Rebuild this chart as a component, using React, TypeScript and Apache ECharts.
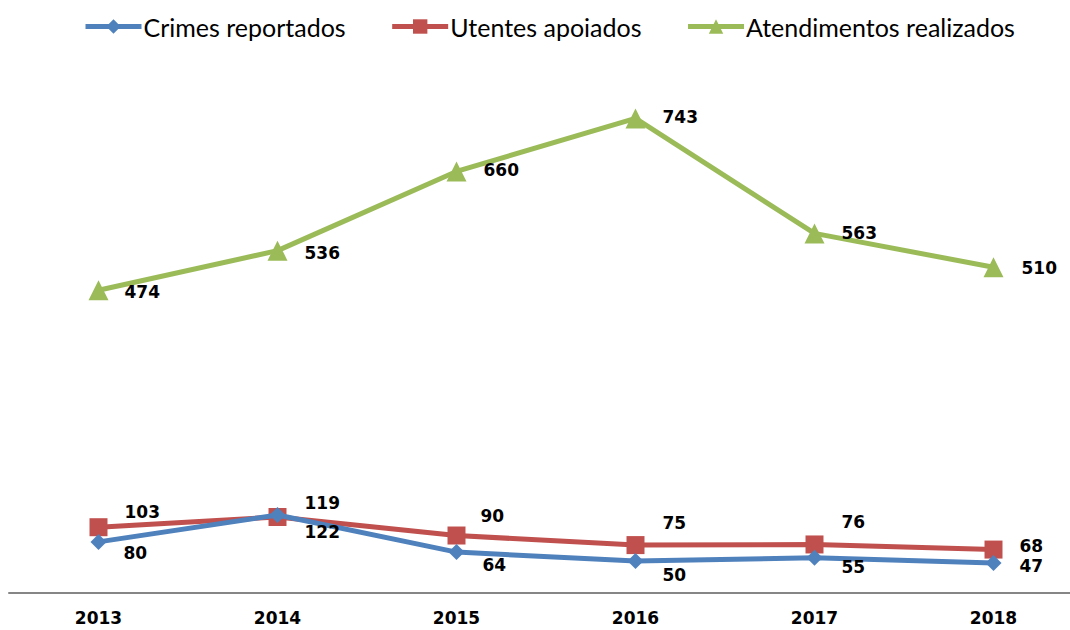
import React, { useEffect, useRef } from "react";
import * as echarts from "echarts";

const years = ["2013", "2014", "2015", "2016", "2017", "2018"];
const crimes = [80, 122, 64, 50, 55, 47];
const utentes = [103, 119, 90, 75, 76, 68];
const atendimentos = [474, 536, 660, 743, 563, 510];

const seriesNames = ["Crimes reportados", "Utentes apoiados", "Atendimentos realizados"];
const seriesColors = ["#4F81BD", "#C0504D", "#9BBB59"];

// label placement offsets (styling)
const crimesLabelOffsets = [[25, 11], [27, 17], [26, 13], [27, 14], [27, 9], [26, 3]];
const utentesLabelOffsets = [[26, -15], [27, -14], [24, -20], [27, -22], [27, -22], [26, -4]];
const atendLabelOffsets = [[26, 2], [27, 2], [27, -1], [27, -1], [27, 0], [28, 1]];

const labelFont = {
  fontFamily: "DejaVu Sans",
  fontWeight: "bold" as const,
  fontSize: 17,
  lineHeight: 18,
  color: "#000",
};

function withLabels(values: number[], offsets: number[][]) {
  return values.map((v, i) => ({
    value: v,
    label: {
      show: true,
      position: "inside",
      align: "left",
      verticalAlign: "middle",
      offset: offsets[i],
      ...labelFont,
    },
  }));
}

export default function App() {
  const ref = useRef<HTMLDivElement>(null);
  useEffect(() => {
    if (!ref.current) return;
    const chart = echarts.init(ref.current, null, { renderer: "svg" });
    chart.setOption({
      animation: false,
      backgroundColor: "#fff",
      legend: {
        left: 78,
        top: 9,
        itemWidth: 56,
        itemHeight: 18,
        itemGap: 44,
        textStyle: { fontFamily: "Lato", fontSize: 25, color: "#000", padding: [0, 0, 0, -3] },
        data: seriesNames.map((n) => ({ name: n, lineStyle: { width: 5 } })),
      },
      grid: { left: 9, top: 82, width: 1074, height: 511 },
      xAxis: {
        type: "category",
        data: years,
        boundaryGap: true,
        axisLine: { lineStyle: { color: "#868686", width: 2 } },
        axisTick: { show: false },
        axisLabel: {
          margin: 16,
          fontFamily: "DejaVu Sans",
          fontWeight: "bold",
          fontSize: 17,
          color: "#000",
        },
      },
      yAxis: {
        type: "value",
        min: 0,
        max: 800,
        show: false,
        splitLine: { show: false },
      },
      series: [
        {
          name: seriesNames[0],
          type: "line",
          data: withLabels(crimes, crimesLabelOffsets),
          symbol: "diamond",
          symbolSize: 16,
          color: seriesColors[0],
          lineStyle: { width: 5, color: seriesColors[0] },
          itemStyle: { color: seriesColors[0] },
          z: 3,
        },
        {
          name: seriesNames[1],
          type: "line",
          data: withLabels(utentes, utentesLabelOffsets),
          symbol: "rect",
          symbolSize: 18,
          color: seriesColors[1],
          lineStyle: { width: 5, color: seriesColors[1] },
          itemStyle: { color: seriesColors[1] },
          z: 2,
        },
        {
          name: seriesNames[2],
          type: "line",
          data: withLabels(atendimentos, atendLabelOffsets),
          symbol: "triangle",
          symbolSize: 20,
          color: seriesColors[2],
          lineStyle: { width: 5, color: seriesColors[2] },
          itemStyle: { color: seriesColors[2] },
        },
      ],
    });
    return () => chart.dispose();
  }, []);
  return (
    <div
      style={{
        position: "fixed",
        left: 0,
        top: 0,
        width: 1070,
        height: 630,
        overflow: "hidden",
        background: "#fff",
      }}
    >
      <div ref={ref} style={{ width: 1100, height: 630 }} />
    </div>
  );
}
